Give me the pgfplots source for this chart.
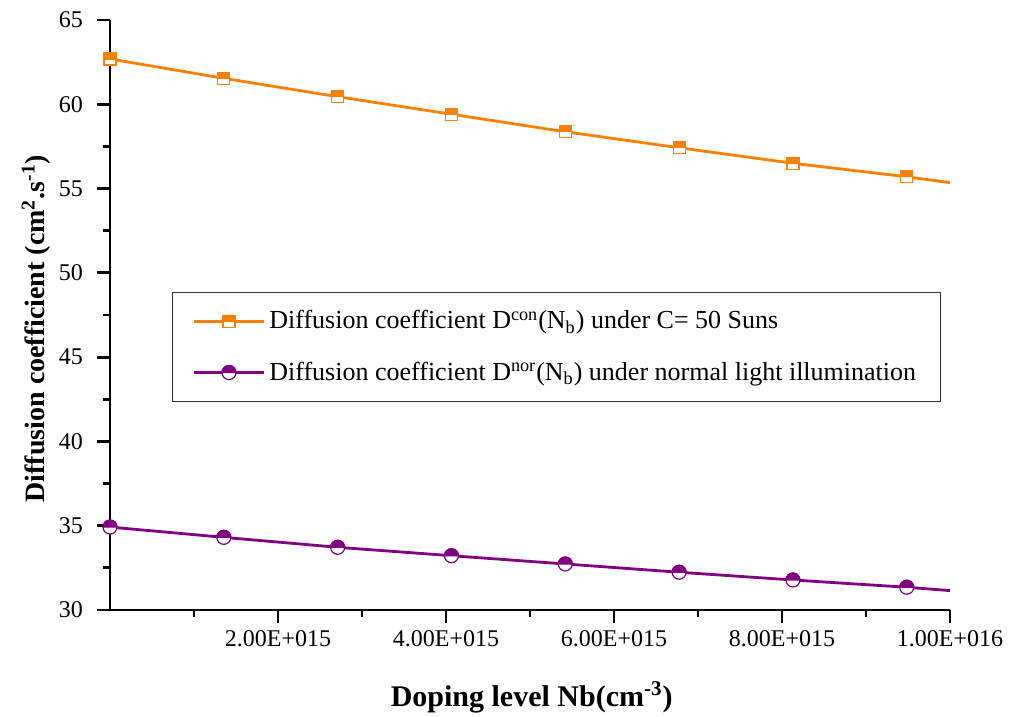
\documentclass[border=0pt]{standalone}
\usepackage{fontspec}
\setmainfont{Liberation Serif}
\usepackage{pgfplots}
\pgfplotsset{compat=1.18}
\definecolor{corange}{HTML}{FF8000}
\definecolor{cpurple}{HTML}{800080}
\pgfdeclareplotmark{hsquare}{%
  \pgfsetlinewidth{0.6pt}%
  \pgfsetstrokecolor{corange}%
  \pgfpathrectangle{\pgfqpoint{-\pgfplotmarksize}{-\pgfplotmarksize}}{\pgfqpoint{2\pgfplotmarksize}{2\pgfplotmarksize}}%
  \pgfsetfillcolor{white}\pgfusepathqfillstroke
  \pgfpathrectangle{\pgfqpoint{-\pgfplotmarksize}{0pt}}{\pgfqpoint{2\pgfplotmarksize}{\pgfplotmarksize}}%
  \pgfsetfillcolor{corange}\pgfusepathqfillstroke}
\pgfdeclareplotmark{hcircle}{%
  \pgfsetlinewidth{0.6pt}%
  \pgfsetstrokecolor{cpurple}%
  \pgfpathcircle{\pgfqpoint{0pt}{0pt}}{\pgfplotmarksize}%
  \pgfsetfillcolor{white}\pgfusepathqfillstroke
  \pgfpathmoveto{\pgfqpoint{\pgfplotmarksize}{0pt}}%
  \pgfpatharc{0}{180}{\pgfplotmarksize}%
  \pgfpathclose
  \pgfsetfillcolor{cpurple}\pgfusepathqfillstroke}
\begin{document}
\begin{tikzpicture}
\useasboundingbox (-55pt,-53.5pt) rectangle (454pt,305pt);
\begin{axis}[
  at={(0,0)}, anchor=south west,
  scale only axis, width=420pt, height=295pt,
  xmin=0, xmax=10, ymin=30, ymax=65,
  axis lines=left, axis line style={-, line width=1.4pt, black},
  major tick style={black, line width=1.4pt},
  minor tick style={black, line width=1.4pt},
  tick align=outside,
  major tick length=6.5pt, minor tick length=3.5pt,
  xtick={2,4,6,8,10},
  xticklabels={2.00E+015,4.00E+015,6.00E+015,8.00E+015,1.00E+016},
  minor xtick={1,3,5,7,9},
  ytick={30,35,...,65},
  minor ytick={32.5,37.5,...,62.5},
  /pgf/number format/assume math mode=true,
  tick label style={font=\fontsize{12}{14}\selectfont},
  yticklabel style={xshift=-3.5pt},
  clip=false,
  xlabel={\textbf{Doping level Nb(cm\textsuperscript{-3})}},
  ylabel={\textbf{Diffusion coefficient (cm\textsuperscript{2}.s\textsuperscript{-1})}},
  xlabel style={font=\fontsize{15}{18}\selectfont, at={(axis description cs:0.502,-0.163)}, anchor=base},
  ylabel style={font=\fontsize{14}{17}\selectfont, at={(axis description cs:-0.0774,0.477)}, anchor=base, rotate=0},
  legend style={at={(axis description cs:0.0738,0.539)}, anchor=north west,
    draw=black!80, line width=0.6pt, font=\fontsize{13}{16}\selectfont,
    inner xsep=10pt, inner ysep=7pt, row sep=11pt},
  legend cell align=left,
  legend image code/.code={\draw[#1, mark=none, line width=1.4pt] (0pt,0pt) -- (35pt,0pt);
     \draw[#1, only marks] plot coordinates {(17.5pt,0pt)};},
]
\addplot[corange, line width=1.4pt, mark=hsquare, mark size=3pt, mark indices={1,2,3,4,5,6,7,8}] coordinates {
(0,62.69) (1.355,61.54) (2.71,60.45) (4.065,59.41) (5.42,58.37) (6.775,57.42) (8.13,56.50) (9.485,55.70) (10,55.35)};
\addlegendentry{Diffusion coefficient D\textsuperscript{con}(N\textsubscript{b}) under C= 50 Suns}
\addplot[cpurple, line width=1.4pt, mark=hcircle, mark size=3.5pt, mark indices={1,2,3,4,5,6,7,8}] coordinates {
(0,34.92) (1.355,34.31) (2.71,33.72) (4.065,33.22) (5.42,32.73) (6.775,32.24) (8.13,31.78) (9.485,31.35) (10,31.15)};
\addlegendentry{Diffusion coefficient D\textsuperscript{nor}(N\textsubscript{b}) under normal light illumination}
\end{axis}
\end{tikzpicture}
\end{document}
